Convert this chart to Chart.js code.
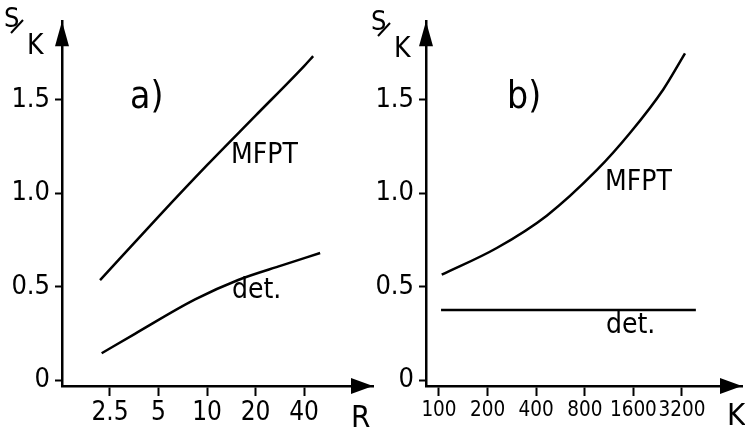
<!DOCTYPE html>
<html>
<head>
<meta charset="utf-8">
<script src="https://cdn.jsdelivr.net/npm/chart.js@4.4.0/dist/chart.umd.min.js"></script>
<style>
  html, body { margin: 0; padding: 0; background: #fff; }
  #wrap { position: relative; width: 745px; height: 430px; overflow: hidden; }
  canvas { position: absolute; top: 0; }
  #panelA { left: 0; }
  #panelB { left: 370px; }
</style>
</head>
<body>
<div id="wrap">
  <canvas id="panelA" width="376" height="430"></canvas>
  <canvas id="panelB" width="375" height="430"></canvas>
</div>
<script>
"use strict";

// panel a) : S/K against R
const rTicks = [2.5, 5, 10, 20, 40];
const rMfpt = [2.17, 5, 10, 20, 40, 45.5];
const mfptA = [0.535, 0.875, 1.15, 1.415, 1.68, 1.733];
const rDet = [2.22, 3.57, 8.43, 15.6, 29.1, 50.3];
const detA = [0.144, 0.248, 0.432, 0.536, 0.614, 0.68];

// panel b) : S/K against K
const kTicks = [100, 200, 400, 800, 1600, 3200];
const kMfpt = [104, 228, 465, 948, 1524, 2450, 3340];
const mfptB = [0.564, 0.707, 0.88, 1.123, 1.322, 1.555, 1.748];
const kDet = [103, 3900];
const detB = [0.375, 0.375];

const yTicks = [0, 0.5, 1.0, 1.5];
const yTickLabels = ["0", "0.5", "1.0", "1.5"];

const FONT = "'DejaVu Sans', 'Liberation Sans', sans-serif";
const STRETCH = "condensed";
Chart.defaults.font.family = FONT;
Chart.defaults.color = "#000";

function setFont(ctx, size) {
  ctx.font = STRETCH + " " + size + "px " + FONT;
  if ("fontStretch" in ctx) ctx.fontStretch = STRETCH;
}

/**
 * Draws arrow heads, axis names and curve labels
 */
const decorPlugin = {
  id: "decor",
  afterDraw(chart, args, opts) {
    const { ctx, chartArea: a } = chart;
    ctx.save();
    ctx.fillStyle = "#000";
    ctx.strokeStyle = "#000";
    // arrow heads
    ctx.beginPath();
    ctx.moveTo(a.left, a.top);
    ctx.lineTo(a.left - 7, a.top + 25);
    ctx.lineTo(a.left + 7, a.top + 25);
    ctx.closePath();
    ctx.fill();
    ctx.beginPath();
    ctx.moveTo(a.right, a.bottom);
    ctx.lineTo(a.right - 22, a.bottom - 8);
    ctx.lineTo(a.right - 22, a.bottom + 8);
    ctx.closePath();
    ctx.fill();
    // S/K
    const s = opts.sk;
    ctx.textBaseline = "alphabetic";
    setFont(ctx, 27);
    ctx.fillText("S", s[0], s[1] + 18);
    ctx.lineWidth = 2;
    ctx.beginPath();
    ctx.moveTo(s[0] + 7, s[1] + 24);
    ctx.lineTo(s[0] + 19, s[1] + 11);
    ctx.stroke();
    setFont(ctx, 28);
    ctx.fillText("K", s[0] + 23, s[1] + 45);
    // other labels
    opts.labels.forEach((l) => {
      setFont(ctx, l.size);
      ctx.fillText(l.text, l.x, l.y);
    });
    ctx.restore();
  },
};

/**
 * Builds one panel of the figure
 */
function buildPanel(canvas, cfg) {
  const lineStyle = {
    borderColor: "#000",
    borderWidth: 2.5,
    pointRadius: 0,
    fill: false,
    cubicInterpolationMode: "monotone",
  };
  return new Chart(canvas, {
    type: "line",
    data: {
      datasets: cfg.series.map((s) => ({
        ...lineStyle,
        data: s.x.map((x, i) => ({ x: x, y: s.y[i] })),
      })),
    },
    options: {
      responsive: false,
      animation: false,
      events: [],
      layout: { padding: { top: 10, right: cfg.padRight, bottom: 0, left: 0 } },
      plugins: {
        legend: { display: false },
        tooltip: { enabled: false },
        decor: { sk: cfg.sk, labels: cfg.labels },
      },
      scales: {
        x: {
          type: "logarithmic",
          min: cfg.xMin,
          max: cfg.xMax,
          afterBuildTicks: (sc) => {
            sc.ticks = cfg.xTicks.map((v) => ({ value: v }));
          },
          afterFit: (sc) => {
            sc.height = 44;
          },
          ticks: {
            autoSkip: false,
            maxRotation: 0,
            padding: 2,
            font: { size: cfg.xFont, weight: STRETCH },
            callback: (v) => String(v),
          },
          grid: {
            drawOnChartArea: false,
            tickLength: 10,
            tickWidth: 2,
            tickColor: "#000",
          },
          border: { color: "#000", width: 2.5 },
        },
        y: {
          type: "linear",
          min: -0.031,
          max: 1.92,
          afterBuildTicks: (sc) => {
            sc.ticks = yTicks.map((v) => ({ value: v }));
          },
          afterFit: (sc) => {
            sc.width = cfg.axisX;
          },
          ticks: {
            padding: 5,
            font: { size: 27, weight: STRETCH },
            callback: (v) => yTickLabels[yTicks.indexOf(v)],
          },
          grid: {
            drawOnChartArea: false,
            tickLength: 7,
            tickWidth: 2,
            tickColor: "#000",
          },
          border: { color: "#000", width: 2.5 },
        },
      },
    },
    plugins: [decorPlugin],
  });
}

buildPanel(document.getElementById("panelA"), {
  axisX: 62,
  padRight: 3,
  xMin: 1.26,
  xMax: 107,
  xTicks: rTicks,
  xFont: 26,
  series: [
    { x: rMfpt, y: mfptA },
    { x: rDet, y: detA },
  ],
  sk: [4, 9],
  labels: [
    { text: "a)", x: 130, y: 108, size: 37 },
    { text: "MFPT", x: 231, y: 163, size: 28 },
    { text: "det.", x: 232, y: 298, size: 28 },
    { text: "R", x: 351, y: 427, size: 31 },
  ],
});

buildPanel(document.getElementById("panelB"), {
  axisX: 56,
  padRight: 3,
  xMin: 83.1,
  xMax: 7530,
  xTicks: kTicks,
  xFont: 20.5,
  series: [
    { x: kMfpt, y: mfptB },
    { x: kDet, y: detB },
  ],
  sk: [1, 12],
  labels: [
    { text: "b)", x: 137, y: 108, size: 37 },
    { text: "MFPT", x: 235, y: 190, size: 28 },
    { text: "det.", x: 236, y: 333, size: 28 },
    { text: "K", x: 357, y: 425, size: 31 },
  ],
});
</script>
</body>
</html>
